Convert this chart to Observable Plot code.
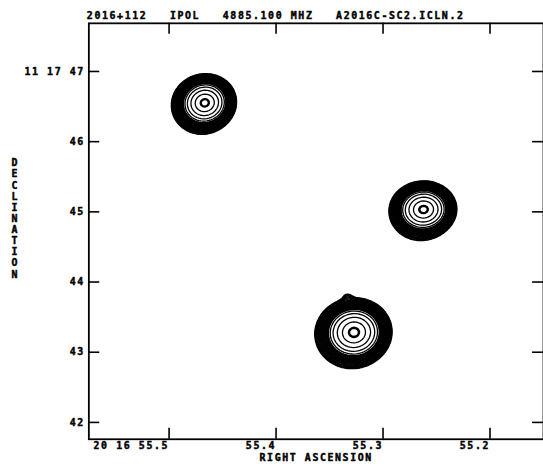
<!DOCTYPE html>
<html><head><meta charset="utf-8">
<script src="https://cdn.jsdelivr.net/npm/d3@7"></script>
<script src="https://cdn.jsdelivr.net/npm/@observablehq/plot@0.6"></script>
<style>
html,body{margin:0;padding:0;background:#fff;overflow:hidden}
#chart{width:543px;height:475px;overflow:hidden}
#chart svg text{white-space:pre}
</style></head><body><div id="chart"></div>
<script>
// ---- text ----
const title = "2016+112   IPOL   4885.100 MHZ   A2016C-SC2.ICLN.2";
const xLabel = "RIGHT ASCENSION";
const yLabel = "DECLINATION";
// ---- axes ----
const raTicks = [55.5, 55.4, 55.3, 55.2];
const raTickLabels = ["20 16 55.5", "55.4", "55.3", "55.2"];
const decTicks = [47, 46, 45, 44, 43, 42];
const decTickLabels = ["11 17 47", "46", "45", "44", "43", "42"];
const raDomain = [55.575, 55.15];
const decDomain = [41.76, 47.686];
// ---- source components (RA s, Dec arcsec, peak, sigma major/minor arcsec, PA deg) ----
const compRA =     [55.4665, 55.2620, 55.3270, 55.4706, 55.2661, 55.3311, 55.3335];
const compDec =    [46.555,  45.035,  43.285,  46.485,  44.965,  43.215,  43.800];
const compPeak =   [1,       1,       1,       0.06,    0.06,    0.06,    0.011];
const compSigMaj = [0.148,   0.155,   0.178,   0.20,    0.20,    0.22,    0.06];
const compSigMin = [0.138,   0.136,   0.166,   0.20,    0.20,    0.22,    0.06];
const compPA =     [110,     95,      100,     0,       0,       0,       0];
// ---- contour levels (fraction of peak) ----
const levels = [0.015, 0.017, 0.019, 0.0215, 0.024, 0.027, 0.031, 0.035, 0.039, 0.044, 0.049, 0.055,
  0.061, 0.068, 0.076, 0.084, 0.093, 0.102, 0.112, 0.123, 0.135, 0.148, 0.162,
  0.208, 0.30, 0.47, 0.715, 0.96, 0.98, 0.995];

const cosDec = Math.cos((11 + 17 / 60 + 45 / 3600) * Math.PI / 180);
function brightness(ra, dec) {
  let s = 0;
  for (let i = 0; i < compRA.length; i++) {
    const e = (ra - compRA[i]) * 15 * cosDec;
    const n = dec - compDec[i];
    const pa = compPA[i] * Math.PI / 180;
    const u = e * Math.sin(pa) + n * Math.cos(pa);
    const v = e * Math.cos(pa) - n * Math.sin(pa);
    s += compPeak[i] * Math.exp(-0.5 * ((u / compSigMaj[i]) ** 2 + (v / compSigMin[i]) ** 2));
  }
  return s;
}

const W = 547, H = 475, mL = 89, mR = 0, mT = 23, mB = 33;
const innerW = W - mL - mR, innerH = H - mT - mB;
const txt = {fill: "black", stroke: "black", strokeWidth: 0.45, fontSize: 10, fontWeight: "bold"};

const chart = Plot.plot({
  width: W, height: H,
  marginLeft: mL, marginRight: mR, marginTop: mT, marginBottom: mB,
  x: {domain: raDomain, axis: null},
  y: {domain: decDomain, axis: null},
  style: {fontFamily: "'DejaVu Sans Mono', monospace", letterSpacing: "1.6px", background: "white", overflow: "visible"},
  marks: [
    Plot.contour({
      value: brightness,
      x1: raDomain[0], x2: raDomain[1], y1: decDomain[0], y2: decDomain[1],
      thresholds: levels, stroke: "black", fill: "none", strokeWidth: 1.3
    }),
    Plot.frame({stroke: "black", strokeWidth: 1.8}),
    Plot.tickX(raTicks, {x: d => d, insetTop: innerH - 11, stroke: "black", strokeWidth: 1.6}),
    Plot.tickX(raTicks, {x: d => d, insetBottom: innerH - 11, stroke: "black", strokeWidth: 1.6}),
    Plot.tickY(decTicks, {y: d => d, insetRight: innerW - 11, stroke: "black", strokeWidth: 1.6}),
    Plot.tickY(decTicks, {y: d => d, insetLeft: innerW - 11, stroke: "black", strokeWidth: 1.6}),
    Plot.text(raTicks, {x: d => d, text: (d, i) => raTickLabels[i], frameAnchor: "bottom", textAnchor: "end", dy: 10, dx: 0, ...txt}),
    Plot.text([xLabel], {text: d => d, frameAnchor: "bottom", dy: 22, dx: 0, ...txt}),
    Plot.text(decTicks, {y: d => d, text: (d, i) => decTickLabels[i], frameAnchor: "left", textAnchor: "end", dx: -4, ...txt}),
    Plot.text([yLabel.split("").join("\n")], {text: d => d, frameAnchor: "left", dx: -78, dy: -13, lineHeight: 1.12, ...txt}),
    Plot.text([title], {text: d => d, frameAnchor: "top-left", textAnchor: "start", dx: -2, dy: -11, ...txt})
  ]
});
document.getElementById("chart").appendChild(chart);
</script></body></html>
